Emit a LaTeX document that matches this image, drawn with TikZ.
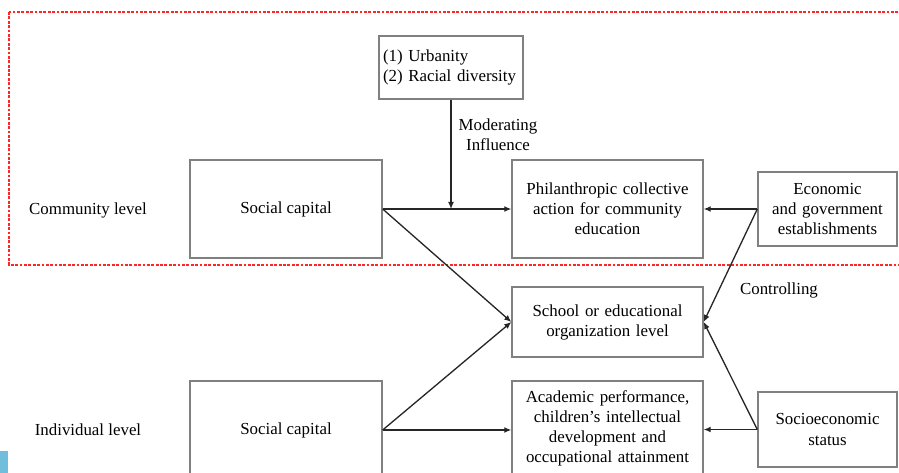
\documentclass[tikz,border=0pt]{standalone}
\usepackage{fontspec}
\setmainfont{Liberation Serif}
\usetikzlibrary{arrows.meta}

\definecolor{corner}{RGB}{112,190,220}

\begin{document}
\begin{tikzpicture}[
        x=0.02cm, y=-0.02cm,
        box/.style={rectangle, draw=black!50, line width=0.8pt, text centered, inner sep=2pt, font=\fontsize{9.6pt}{11.4pt}\selectfont},
        plain_label/.style={font=\fontsize{9.6pt}{11.4pt}\selectfont, align=center},
        link/.style={-{Latex[length=4pt,width=3.4pt]}, line width=0.75pt, draw=black!85}
    ]
        \useasboundingbox (0,0) rectangle (899,473);

        % Community level frame
        \draw[red!85, line width=0.7pt, dash pattern=on 1.6pt off 0.9pt] (9,12) rectangle (910,265);
        \fill[corner] (0,451) rectangle (8,473);

        % Level labels
        \node[plain_label] (community) at (88,210) {Community level};
        \node[plain_label] (individual) at (88,430) {Individual level};

        % Left column
        \node[box, minimum width=3.84cm, minimum height=1.96cm] (social_upper) at (286,209) {Social capital};
        \node[box, minimum width=3.84cm, minimum height=1.96cm] (social_lower) at (286,430) {Social capital};

        % Moderators
        \node[box, minimum width=2.88cm, minimum height=1.26cm, text width=2.72cm, align=left] (moderators) at (451,67.5) {(1) Urbanity\\(2) Racial diversity};

        % Middle column
        \node[box, minimum width=3.82cm, minimum height=1.96cm, text width=3.6cm, align=center] (philanthropy) at (607.5,209) {Philanthropic collective\\action for community\\education};
        \node[box, minimum width=3.82cm, minimum height=1.4cm, text width=3.6cm, align=center] (school_level) at (607.5,322) {School or educational\\organization level};
        \node[box, minimum width=3.82cm, minimum height=1.88cm, text width=3.6cm, align=center] (outcomes) at (607.5,428) {Academic performance,\\children's intellectual\\development and\\occupational attainment};

        % Right column
        \node[box, minimum width=2.78cm, minimum height=1.48cm, text width=2.6cm, align=center] (establishments) at (827.5,209) {Economic\\and government\\establishments};
        \node[box, minimum width=2.78cm, minimum height=1.5cm, text width=2.6cm, align=center] (ses) at (827.5,429.5) {Socioeconomic\\status};

        % Connector labels
        \node[plain_label] (moderating) at (498,135) {Moderating\\Influence};
        \node[plain_label] (controlling) at (779,290) {Controlling};

        \coordinate (mod_point) at (moderators.south |- social_upper.east);

        % Connections
        \draw[link] (social_upper.east) -- (philanthropy.west);
        \draw[link] (moderators.south) -- (mod_point);
        \draw[link] (social_upper.east) -- (school_level.west);
        \draw[link] (social_lower.east) -- (school_level.west);
        \draw[link] (social_lower.east) -- (outcomes.west |- social_lower.east);
        \draw[link] (establishments.west) -- (philanthropy.east);
        \draw[link] (establishments.west) -- (school_level.east);
        \draw[link] (ses.west) -- (school_level.east);
        \draw[link] (ses.west) -- (outcomes.east |- ses.west);

    \end{tikzpicture}
\end{document}
